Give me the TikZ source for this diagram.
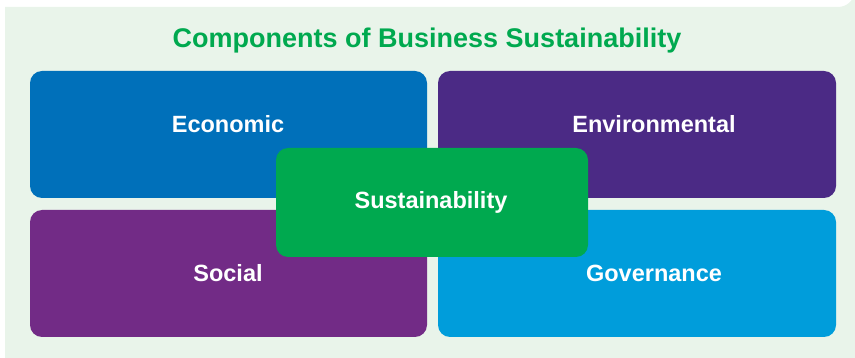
\documentclass[tikz,border=0pt]{standalone}
\usepackage{fontspec}
\setmainfont{Liberation Sans}
\definecolor{bgc}{HTML}{E9F4EA}
\definecolor{econ}{HTML}{0070BA}
\definecolor{envi}{HTML}{4B2A85}
\definecolor{soci}{HTML}{722B86}
\definecolor{gove}{HTML}{009DDB}
\definecolor{sust}{HTML}{00A94F}
\begin{document}
\begin{tikzpicture}[x=1pt,y=-1pt,
  quad/.style={rounded corners=12pt},
  lbl/.style={text=white,font=\fontsize{23.5}{28}\selectfont\bfseries,inner sep=0pt,anchor=base}]
\useasboundingbox (0,0) rectangle (855,358);
\fill[bgc] (5,358) -- (5,7) -- (838,7) arc[start angle=90,end angle=0,radius=17] -- (855,358) -- cycle;
\node[text=sust,font=\fontsize{27}{32}\selectfont\bfseries,inner sep=0pt,anchor=base] (title) at (427,48) {Components of Business Sustainability};
\fill[econ,quad] (30,71) rectangle (427,198);
\fill[envi,quad] (438,71) rectangle (836,198);
\fill[soci,quad] (30,210) rectangle (427,337);
\fill[gove,quad] (438,210) rectangle (836,337);
\node[lbl] (economic) at (228,133) {Economic};
\node[lbl] (environmental) at (654,133) {Environmental};
\node[lbl] (social) at (228,282) {Social};
\node[lbl] (governance) at (654,282) {Governance};
\fill[sust,quad] (276,148) rectangle (588,257);
\node[lbl] (sustainability) at (431,209) {Sustainability};
\end{tikzpicture}
\end{document}
